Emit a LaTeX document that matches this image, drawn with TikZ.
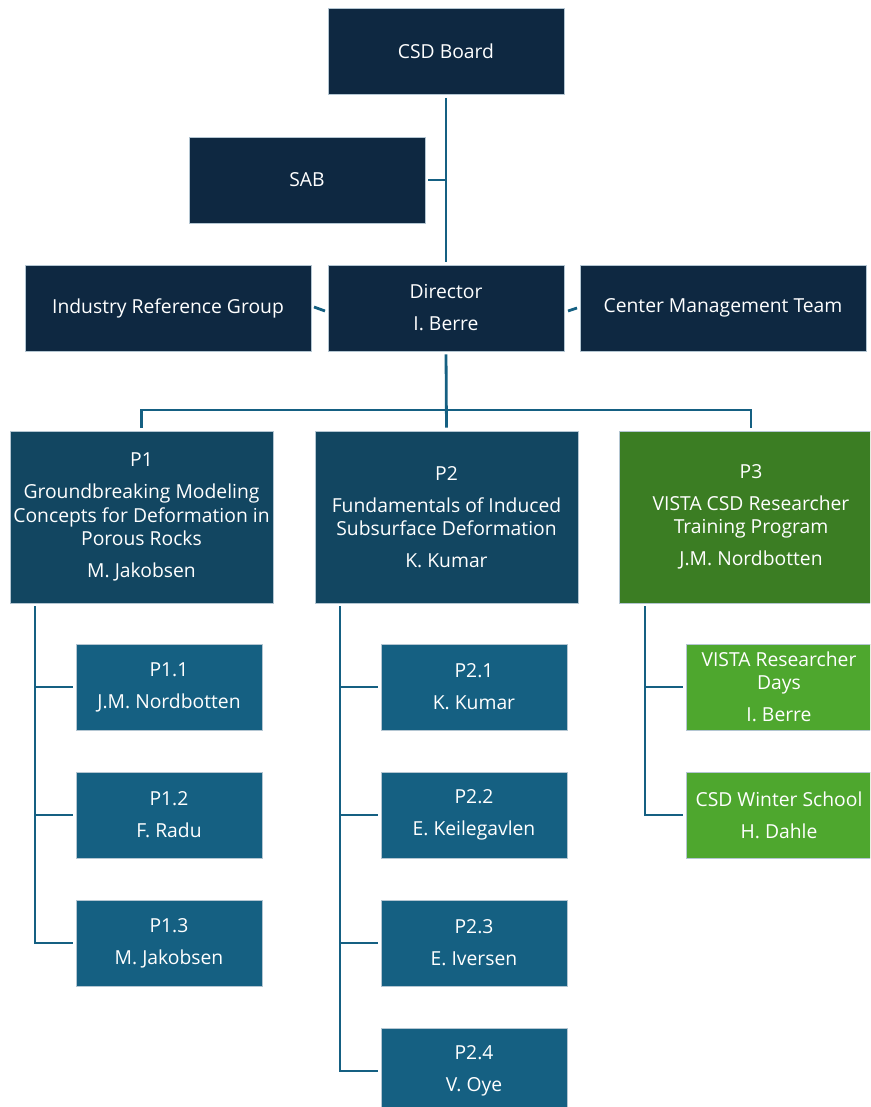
\documentclass[tikz,border=0pt]{standalone}
\usepackage{fontspec}
\setmainfont{Open Sans}
\definecolor{navy}{HTML}{0E2841}
\definecolor{pblue}{HTML}{124661}
\definecolor{sblue}{HTML}{156082}
\definecolor{pgreen}{HTML}{3B7D23}
\definecolor{sgreen}{HTML}{4EA72E}
\definecolor{edgec}{HTML}{B4C6D2}
\begin{document}
\begin{tikzpicture}[x=1pt,y=-1pt,
  box/.style={rectangle, inner sep=0pt, draw=edgec, line width=0.6pt, text=white,
    align=center, font=\fontsize{19.3}{23.5}\selectfont},
  topbox/.style={box, fill=navy, minimum height=86pt},
  pbox/.style={box, minimum width=263pt, minimum height=172pt},
  subbox/.style={box, minimum width=186pt, minimum height=86pt},
  conn/.style={draw=sblue, line width=2.8pt},
  gp/.style={shorten <=3pt, shorten >=3pt}]
\useasboundingbox (0,0) rectangle (870,1107);
\begin{scope}
\clip (0,0) rectangle (870,1107);
% top
\node[topbox, minimum width=236pt] (csd) at (446,51.5) {CSD Board};
\node[topbox, minimum width=236pt] (sab) at (307,180) {SAB};
\node[topbox, minimum width=286pt] (irg) at (168,308) {Industry Reference Group};
\node[topbox, minimum width=236pt] (dir) at (446,308) {Director\\[8.5pt]I. Berre};
\node[topbox, minimum width=286pt] (cmt) at (723,308) {Center Management Team};
% P level
\node[pbox, fill=pblue] (p1) at (141.5,517) {P1\\[8.5pt]Groundbreaking Modeling\\Concepts for Deformation in\\Porous Rocks\\[8.5pt]M. Jakobsen};
\node[pbox, fill=pblue] (p2) at (446.5,517) {P2\\[8.5pt]Fundamentals of Induced\\Subsurface Deformation\\[8.5pt]K. Kumar};
\node[pbox, fill=pgreen] (p3) at (751,517) {P3\\[8.5pt]VISTA CSD Researcher\\Training Program\\[8.5pt]J.M. Nordbotten};
% subs
\node[subbox, fill=sblue] (p11) at (169,687) {P1.1\\[8.5pt]J.M. Nordbotten};
\node[subbox, fill=sblue] (p12) at (169,815) {P1.2\\[8.5pt]F. Radu};
\node[subbox, fill=sblue] (p13) at (169,943) {P1.3\\[8.5pt]M. Jakobsen};
\node[subbox, fill=sblue] (p21) at (474,687) {P2.1\\[8.5pt]K. Kumar};
\node[subbox, fill=sblue] (p22) at (474,815) {P2.2\\[8.5pt]E. Keilegavlen};
\node[subbox, fill=sblue] (p23) at (474,943) {P2.3\\[8.5pt]E. Iversen};
\node[subbox, fill=sblue] (p24) at (474,1071) {P2.4\\[8.5pt]V. Oye};
\node[subbox, fill=sgreen] (p31) at (779,687) {VISTA Researcher\\Days\\[8.5pt]I. Berre};
\node[subbox, fill=sgreen] (p32) at (779,815) {CSD Winter School\\[8.5pt]H. Dahle};
\end{scope}
% coordinates
\coordinate (bus) at (446,410);
\coordinate (t1) at (35,606);
\coordinate (t2) at (340,606);
\coordinate (t3) at (645,606);
\coordinate (irgA) at (314,307);
\coordinate (irgB) at (325,311);
\coordinate (cmtA) at (568,311);
\coordinate (cmtB) at (577,308);
% connectors
\draw[conn, gp] (csd.south) -- (dir.north);
\draw[conn, shorten <=3pt] (sab.east) -- (sab.east -| csd.south);
\draw[conn] (irgA) -- (irgB);
\draw[conn] (cmtA) -- (cmtB);
\draw[conn, gp] (dir.south) -- (p2.north);
\draw[conn, gp] (p1.north) |- (bus) -| (p3.north);
\draw[conn, shorten >=3pt] (t1) |- (p13.west);
\draw[conn, shorten >=3pt] (t1 |- p11.west) -- (p11.west);
\draw[conn, shorten >=3pt] (t1 |- p12.west) -- (p12.west);
\draw[conn, shorten >=3pt] (t2) |- (p24.west);
\draw[conn, shorten >=3pt] (t2 |- p21.west) -- (p21.west);
\draw[conn, shorten >=3pt] (t2 |- p22.west) -- (p22.west);
\draw[conn, shorten >=3pt] (t2 |- p23.west) -- (p23.west);
\draw[conn, shorten >=3pt] (t3) |- (p32.west);
\draw[conn, shorten >=3pt] (t3 |- p31.west) -- (p31.west);
\end{tikzpicture}
\end{document}
